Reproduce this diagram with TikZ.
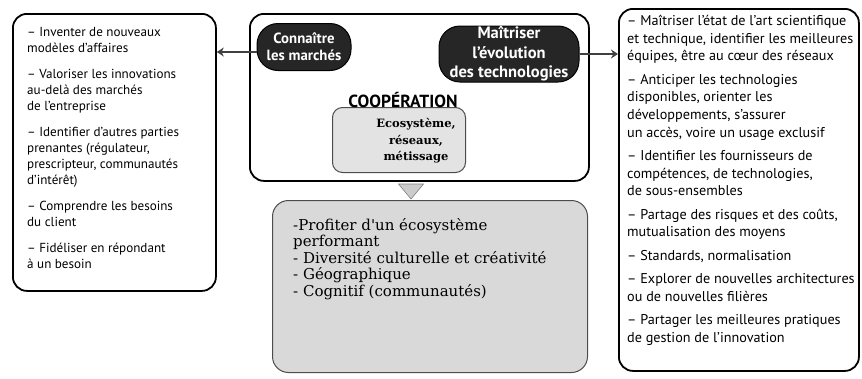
\documentclass[tikz,border=0pt]{standalone}
\usepackage{fontspec}
\setmainfont{PT Sans}
\newfontfamily\slab{DejaVu Serif}
\usetikzlibrary{arrows.meta}
\begin{document}
\begin{tikzpicture}[x=1pt,y=-1pt,
  box/.style={draw=black, line width=1.8pt, rounded corners=14pt, inner sep=0pt, anchor=north west},
  graybox/.style={draw=black!70, line width=1pt, rounded corners=12pt, inner sep=0pt, anchor=north west, fill=black!15},
  pill/.style={fill=black!85, draw=black, line width=1pt, rounded corners=21pt, inner sep=0pt, text=white, align=center, font=\bfseries\fontsize{14.8}{17}\selectfont},
  txt/.style={inner sep=0pt, anchor=north west, align=left},
  link/.style={draw=black!75, line width=1.8pt, -{Stealth[length=7pt,width=9pt]}},
]
\useasboundingbox (0,0) rectangle (862,378);
% frames
\node[box, minimum width=203pt, minimum height=277pt] (L) at (12,13) {};
\node[box, minimum width=339pt, minimum height=167pt] (C) at (249,13) {};
\node[box, minimum width=240pt, minimum height=362pt] (R) at (618,8) {};
\node[graybox, minimum width=315pt, minimum height=172pt, rounded corners=16pt] (B) at (272,200) {};
\node[graybox, minimum width=133pt, minimum height=65pt, fill=black!11, rounded corners=10pt] (E) at (332,107) {};
% pills
\node[pill, minimum width=94pt, minimum height=47pt] (P1) at (304,47) {Connaître\\les marchés};
\node[pill, minimum width=140pt, minimum height=56pt, font=\bfseries\fontsize{16.5}{19.5}\selectfont] (P2) at (509,54) {Maîtriser\\l'évolution\\des technologies};
% title
\node[inner sep=0pt, font=\bfseries\fontsize{17.5}{20}\selectfont] (T) at (403,100) {COOPÉRATION};
% ecosystem text
\node[inner sep=0pt, align=center, font=\slab\bfseries\fontsize{11.5}{16.5}\selectfont] (Et) at (416,141) {Ecosystème,\\réseaux,\\métissage};
% triangle connector
\coordinate (tt) at ([xshift=-5pt]E.south -| Et.south);
\fill[black!20, draw=black!50, line width=0.6pt] ([xshift=-12.5pt, yshift=-11pt]tt) -- ([xshift=12.5pt, yshift=-11pt]tt) -- ([yshift=-26pt]tt) -- cycle;
% left text
\node[txt, font=\fontsize{13.1}{16.2}\selectfont] (Lt) at (27,27) {%
– Inventer de nouveaux\\ modèles d'affaires\\[9.4pt]
– Valoriser les innovations\\ au-delà des marchés\\ de l'entreprise\\[9.4pt]
– Identifier d'autres parties\\ prenantes (régulateur,\\ prescripteur, communautés\\ d'intérêt)\\[9.4pt]
– Comprendre les besoins\\ du client\\[9.4pt]
– Fidéliser en répondant\\ à un besoin};
% right text
\node[txt, font=\fontsize{14.2}{17.6}\selectfont] (Rt) at (627,15) {%
– Maîtriser l'état de l'art scientifique\\ et technique, identifier les meilleures\\ équipes, être au cœur des réseaux\\[5.8pt]
– Anticiper les technologies\\ disponibles, orienter les\\ développements, s'assurer\\ un accès, voire un usage exclusif\\[5.8pt]
– Identifier les fournisseurs de\\ compétences, de technologies,\\ de sous-ensembles\\[5.8pt]
– Partage des risques et des coûts,\\ mutualisation des moyens\\[5.8pt]
– Standards, normalisation\\[5.8pt]
– Explorer de nouvelles architectures\\ ou de nouvelles filières\\[5.8pt]
– Partager les meilleures pratiques\\ de gestion de l'innovation};
% bottom text
\node[txt, font=\slab\fontsize{15}{16.5}\selectfont] (Bt) at (293,218) {%
-Profiter d'un écosystème\\ performant\\ - Diversité culturelle et créativité\\ - Géographique\\ - Cognitif (communautés)};
% arrows
\draw[link] ([yshift=-5pt]P1.west) -- ([yshift=-5pt]P1.west -| L.east);
\draw[link] (P2.east) -- (P2.east -| R.west);
\end{tikzpicture}
\end{document}
